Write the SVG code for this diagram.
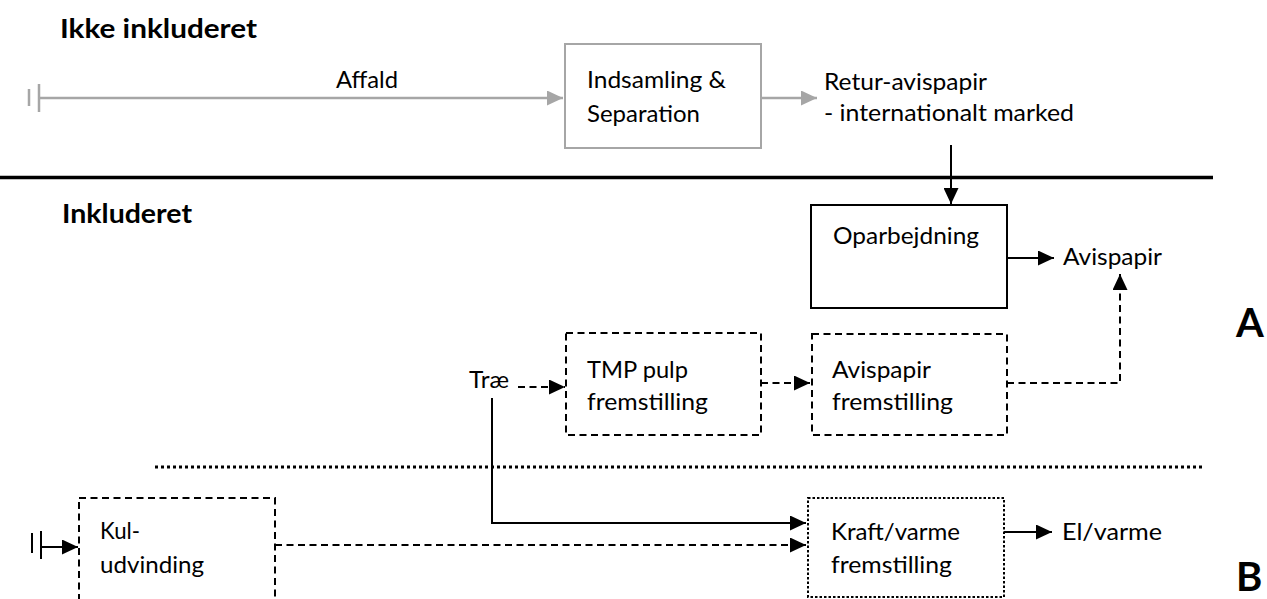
<svg xmlns="http://www.w3.org/2000/svg" width="1267" height="599" viewBox="0 0 1267 599">
<style>
text{font-family:Lato,"Open Sans","Liberation Sans",sans-serif;fill:#000}
.t{font-size:24px}
.h{font-size:27px;font-weight:bold}
.big{font-size:40px;font-weight:bold}
.box{fill:#fff;stroke:#000;stroke-width:2}
.gbox{fill:#fff;stroke:#a6a6a6;stroke-width:2}
.dash{stroke-dasharray:7 4.5}
.dot{stroke-dasharray:2.5 2}
.ln{fill:none;stroke:#000;stroke-width:2}
.gl{fill:none;stroke:#a6a6a6;stroke-width:2.5}
</style>
<defs>
<marker id="ah" markerUnits="userSpaceOnUse" markerWidth="17" markerHeight="15" refX="16" refY="7.5" orient="auto">
<path d="M0,0 L16,7.5 L0,15 Z" fill="#000"/>
</marker>
<marker id="gah" markerUnits="userSpaceOnUse" markerWidth="17" markerHeight="15" refX="16" refY="7.5" orient="auto">
<path d="M0,0 L16,7.5 L0,15 Z" fill="#a6a6a6"/>
</marker>
</defs>
<rect width="1267" height="599" fill="#fff"/>

<g id="labels">
<text class="h" x="60" y="38" textLength="197" lengthAdjust="spacingAndGlyphs">Ikke inkluderet</text>
<text class="h" x="62" y="223" textLength="130" lengthAdjust="spacingAndGlyphs">Inkluderet</text>
<text class="big" x="1236" y="337">A</text>
<text class="big" x="1236" y="591">B</text>
</g>

<g id="separators">
<line x1="0" y1="177.5" x2="1213" y2="177.5" stroke="#000" stroke-width="3.5"/>
<line x1="155" y1="467" x2="1205" y2="467" stroke="#000" stroke-width="3" stroke-dasharray="3 3"/>
</g>

<g id="connectors">
<line class="gl" x1="29" y1="89" x2="29" y2="106"/>
<line class="gl" x1="39" y1="84" x2="39" y2="112"/>
<line class="gl" x1="39" y1="98" x2="563" y2="98" marker-end="url(#gah)"/>
<line class="gl" x1="761" y1="98" x2="817" y2="98" marker-end="url(#gah)"/>
<line class="ln" x1="951" y1="145" x2="951" y2="204" marker-end="url(#ah)"/>
<line class="ln" x1="1007" y1="258" x2="1054" y2="258" marker-end="url(#ah)"/>
<polyline class="ln dash" points="1007,383 1120,383 1120,274" marker-end="url(#ah)"/>
<line class="ln dash" x1="518" y1="387" x2="565" y2="387" marker-end="url(#ah)"/>
<line class="ln dash" x1="761" y1="383" x2="810" y2="383" marker-end="url(#ah)"/>
<polyline class="ln" points="492,398 492,523 806,523" marker-end="url(#ah)"/>
<line class="ln" x1="32" y1="533" x2="32" y2="553" stroke-width="2.5"/>
<line class="ln" x1="41" y1="531" x2="41" y2="559" stroke-width="2.5"/>
<line class="ln" x1="41" y1="547" x2="78" y2="547" marker-end="url(#ah)"/>
<line class="ln dash" x1="275" y1="545" x2="806" y2="545" marker-end="url(#ah)"/>
<line class="ln" x1="1004" y1="532" x2="1052" y2="532" marker-end="url(#ah)"/>
</g>

<g id="waste">
<text class="t" x="336" y="88" textLength="62" lengthAdjust="spacingAndGlyphs">Affald</text>
</g>

<g id="indsamling">
<rect class="gbox" x="565" y="44" width="196" height="104"/>
<text class="t" x="587" y="88" textLength="139" lengthAdjust="spacingAndGlyphs">Indsamling &amp;</text>
<text class="t" x="587" y="122" textLength="113" lengthAdjust="spacingAndGlyphs">Separation</text>
</g>

<g id="retur">
<text class="t" x="824" y="90" textLength="163" lengthAdjust="spacingAndGlyphs">Retur-avispapir</text>
<text class="t" x="824" y="121" textLength="250" lengthAdjust="spacingAndGlyphs">- internationalt marked</text>
</g>

<g id="oparbejdning">
<rect class="box" x="811" y="205" width="196" height="103"/>
<text class="t" x="833" y="244" textLength="146" lengthAdjust="spacingAndGlyphs">Oparbejdning</text>
</g>

<g id="avispapir-out">
<text class="t" x="1063" y="265" textLength="99" lengthAdjust="spacingAndGlyphs">Avispapir</text>
</g>

<g id="trae">
<text class="t" x="469" y="388" textLength="40" lengthAdjust="spacingAndGlyphs">Træ</text>
</g>

<g id="tmp">
<rect class="box dash" x="566" y="333" width="195" height="102"/>
<text class="t" x="587" y="378" textLength="101" lengthAdjust="spacingAndGlyphs">TMP pulp</text>
<text class="t" x="587" y="410" textLength="121" lengthAdjust="spacingAndGlyphs">fremstilling</text>
</g>

<g id="avispapir-fremstilling">
<rect class="box dash" x="812" y="334" width="195" height="101"/>
<text class="t" x="832" y="378" textLength="99" lengthAdjust="spacingAndGlyphs">Avispapir</text>
<text class="t" x="832" y="410" textLength="121" lengthAdjust="spacingAndGlyphs">fremstilling</text>
</g>

<g id="kul">
<rect class="box dash" x="79" y="498" width="196" height="120"/>
<text class="t" x="100" y="539" textLength="40" lengthAdjust="spacingAndGlyphs">Kul-</text>
<text class="t" x="100" y="573" textLength="104" lengthAdjust="spacingAndGlyphs">udvinding</text>
</g>

<g id="kraft">
<rect class="box dot" x="808" y="498" width="196" height="99" stroke-width="2.5"/>
<text class="t" x="831" y="540" textLength="129" lengthAdjust="spacingAndGlyphs">Kraft/varme</text>
<text class="t" x="831" y="573" textLength="121" lengthAdjust="spacingAndGlyphs">fremstilling</text>
</g>

<g id="elvarme">
<text class="t" x="1062" y="540" textLength="100" lengthAdjust="spacingAndGlyphs">El/varme</text>
</g>
</svg>
